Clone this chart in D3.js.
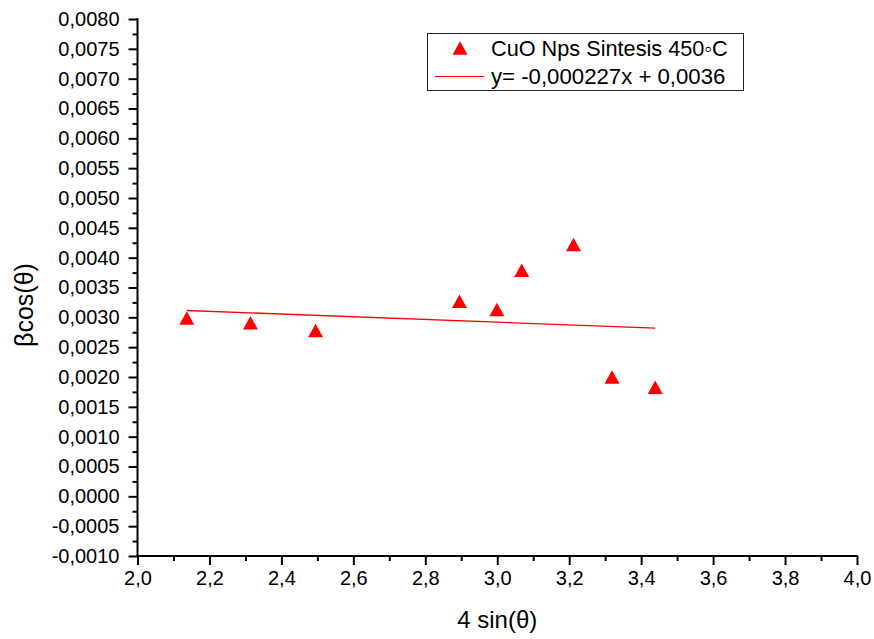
<!DOCTYPE html>
<html>
<head>
<meta charset="utf-8">
<script src="https://cdn.jsdelivr.net/npm/d3@7"></script>
<style>
  html, body { margin: 0; padding: 0; background: #fff; }
  svg { display: block; font-family: "Liberation Sans", Arial, sans-serif; }
</style>
</head>
<body>
<svg id="chart" width="874" height="639"></svg>
<script>
// Williamson–Hall data: 4 sin(θ) vs βcos(θ)
const xValues = [2.137, 2.314, 2.495, 2.895, 2.999, 3.068, 3.212, 3.319, 3.439];
const yValues = [0.00299, 0.00291, 0.00278, 0.00327, 0.00313, 0.00379, 0.00422, 0.00200, 0.00183];

// Linear fit y = slope·x + intercept
const fitSlope = -0.000227;
const fitIntercept = 0.0036;
const fitRange = [2.137, 3.439];

const xTicks = [2.0, 2.2, 2.4, 2.6, 2.8, 3.0, 3.2, 3.4, 3.6, 3.8, 4.0];
const yTicks = [-0.0010, -0.0005, 0.0000, 0.0005, 0.0010, 0.0015, 0.0020, 0.0025, 0.0030,
                0.0035, 0.0040, 0.0045, 0.0050, 0.0055, 0.0060, 0.0065, 0.0070, 0.0075, 0.0080];

const seriesLabel = "CuO Nps Sintesis 450\u25E6C";
const fitLabel = "y= -0,000227x + 0,0036";
const xTitle = "4 sin(\u03B8)";
const yTitle = "\u03B2cos(\u03B8)";

const svg = d3.select("#chart");
const plotLeft = 137.5, plotRight = 857, plotTop = 19, plotBottom = 556;

const x = d3.scaleLinear().domain([2.0, 4.0]).range([plotLeft, plotRight]);
const y = d3.scaleLinear().domain([-0.0010, 0.0080]).range([plotBottom, plotTop]);

const fmtX = v => d3.format(".1f")(v).replace(".", ",");
const fmtY = v => d3.format(".4f")(Math.abs(v) < 1e-12 ? 0 : v).replace(".", ",").replace("\u2212", "-");

// minor ticks halfway between majors
const xMinor = d3.range(2.1, 4.0, 0.2);
const yMinor = d3.range(-0.00075, 0.0080, 0.0005);

const axisColor = "#000";

// Bottom axis
const gx = svg.append("g").attr("transform", `translate(0,${plotBottom})`);
gx.call(d3.axisBottom(x).tickValues(xTicks).tickFormat(fmtX).tickSize(9).tickPadding(6));
gx.append("g").call(d3.axisBottom(x).tickValues(xMinor).tickFormat("").tickSize(5))
  .select(".domain").remove();
gx.selectAll("path.domain").attr("stroke-width", 2).attr("d", `M${plotLeft - 1},0H${plotRight + 1}`);
gx.selectAll(".tick line").attr("stroke-width", 2).attr("stroke", axisColor);
gx.selectAll(".tick text").attr("font-size", 20).attr("fill", "#000")
  .attr("font-family", "'Liberation Sans', Arial, sans-serif");

// Left axis
const gy = svg.append("g").attr("transform", `translate(${plotLeft},0)`);
gy.call(d3.axisLeft(y).tickValues(yTicks).tickFormat(fmtY).tickSize(9).tickPadding(9));
gy.append("g").call(d3.axisLeft(y).tickValues(yMinor).tickFormat("").tickSize(5))
  .select(".domain").remove();
gy.selectAll("path.domain").attr("stroke-width", 2).attr("d", `M0,${plotTop - 1}V${plotBottom + 1}`);
gy.selectAll(".tick line").attr("stroke-width", 2).attr("stroke", axisColor);
gy.selectAll(".tick text").attr("font-size", 20).attr("fill", "#000")
  .attr("font-family", "'Liberation Sans', Arial, sans-serif");

// Fit line
svg.append("line")
  .attr("x1", x(fitRange[0])).attr("y1", y(fitSlope * fitRange[0] + fitIntercept))
  .attr("x2", x(fitRange[1])).attr("y2", y(fitSlope * fitRange[1] + fitIntercept))
  .attr("stroke", "#ff0000").attr("stroke-width", 1.3);

// Triangle marker path centred on its bounding box
const triW = 15, triH = 13.5;
const tri = (cx, cy) => `M${cx},${cy - triH / 2}L${cx + triW / 2},${cy + triH / 2}L${cx - triW / 2},${cy + triH / 2}Z`;

svg.append("g").selectAll("path")
  .data(xValues.map((v, i) => [v, yValues[i]]))
  .join("path")
  .attr("d", d => tri(x(d[0]), y(d[1])))
  .attr("fill", "#ff0000");

// Legend
const lg = svg.append("g");
lg.append("rect").attr("x", 427.5).attr("y", 33.5).attr("width", 316).attr("height", 57)
  .attr("fill", "#fff").attr("stroke", "#222").attr("stroke-width", 1);
lg.append("path").attr("d", tri(460, 48)).attr("fill", "#ff0000");
lg.append("text").attr("x", 491).attr("y", 56).attr("font-size", 21.7).text(seriesLabel);
lg.append("line").attr("x1", 435).attr("x2", 484).attr("y1", 76.5).attr("y2", 76.5)
  .attr("stroke", "#ff0000").attr("stroke-width", 1.2);
lg.append("text").attr("x", 491).attr("y", 84).attr("font-size", 22.2).text(fitLabel);

// Axis titles
svg.append("text").attr("x", (plotLeft + plotRight) / 2).attr("y", 628)
  .attr("text-anchor", "middle").attr("font-size", 24).text(xTitle);
svg.append("text").attr("transform", `translate(33,305) rotate(-90)`)
  .attr("text-anchor", "middle").attr("font-size", 25).text(yTitle);
</script>
</body>
</html>
